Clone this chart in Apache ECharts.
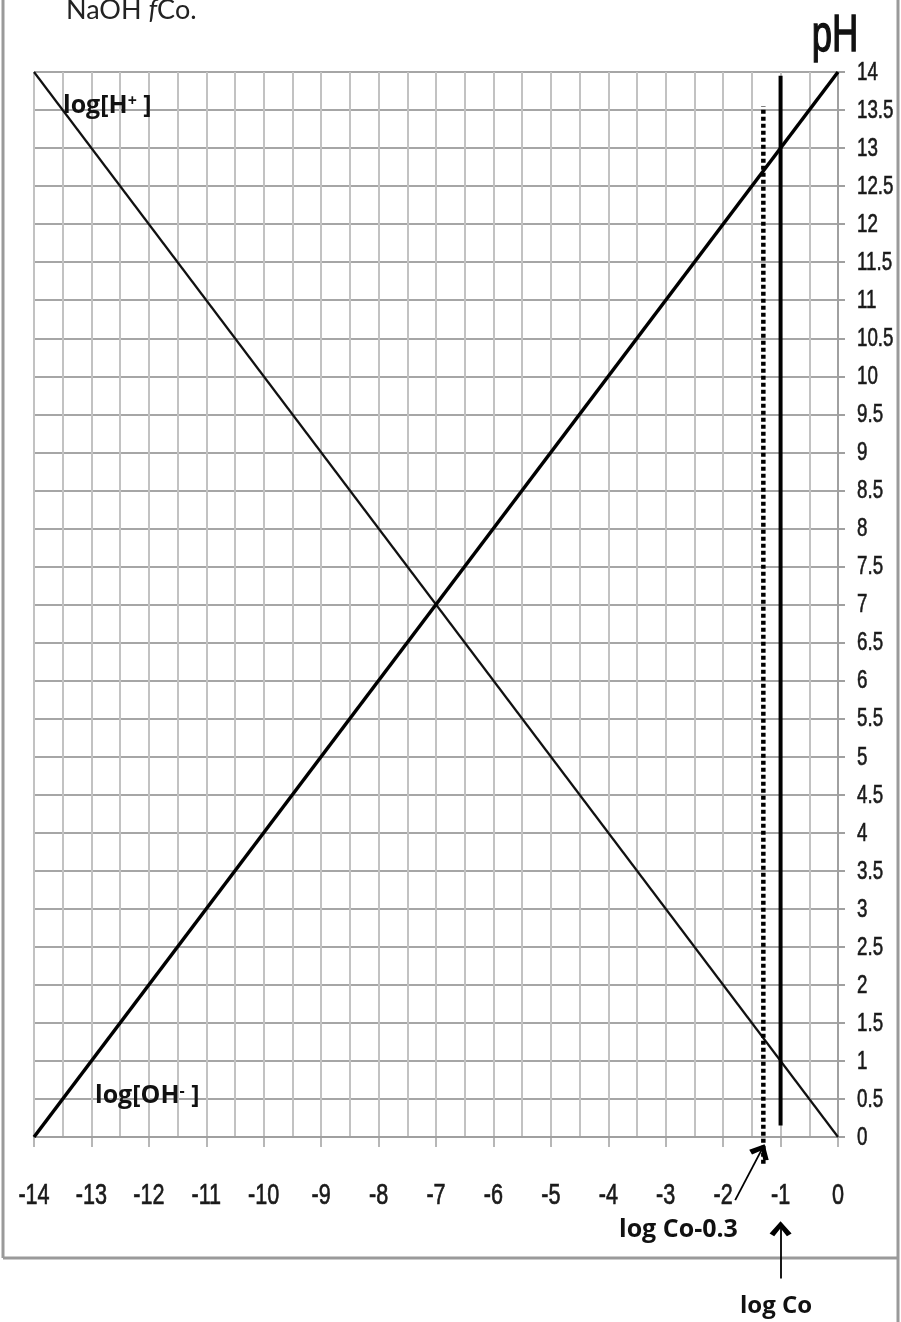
<!DOCTYPE html>
<html>
<head>
<meta charset="utf-8">
<style>
  html, body { margin: 0; padding: 0; background: #fff; }
  #main { width: 901px; height: 1322px; }
</style>
<script src="https://cdn.jsdelivr.net/npm/echarts@6/dist/echarts.min.js"></script>
</head>
<body>
<div id="main"></div>
<script>
// axis ranges and tick labels
var xRange = [-14, 0];
var yRange = [0, 14];
var xTickLabels = [-14, -13, -12, -11, -10, -9, -8, -7, -6, -5, -4, -3, -2, -1, 0];
var yTickLabels = [0, 0.5, 1, 1.5, 2, 2.5, 3, 3.5, 4, 4.5, 5, 5.5, 6, 6.5, 7,
    7.5, 8, 8.5, 9, 9.5, 10, 10.5, 11, 11.5, 12, 12.5, 13, 13.5, 14];

// log[H+] and log[OH-] lines (x = log C, y = pH)
var hPlusX = [-14, 0];
var hPlusY = [14, 0];
var ohX = [-14, 0];
var ohY = [0, 14];

// vertical markers
var logCo = -1;
var logCoY = [0.15, 13.95];
var logCoMinus = -1.3;
var logCoMinusY = [-0.35, 13.55];

// annotation arrows [from, to]
var arrowCoMinus = [[-1.79, -0.83], [-1.31, -0.14]];
var arrowCo = [[-1, -1.86], [-1, -1.16]];

var tickFont = "'Liberation Sans', Arial, sans-serif";
var labelFont = "'Open Sans', sans-serif";
var chevron = 'path://M10,-7 L10.01,-7 L10,-6.99 Z M10,0 L20,12 L15.8,14.8 L10,7 L4.2,14.8 L0,12 Z';

function pairs(xs, ys) {
    var out = [];
    for (var i = 0; i < xs.length; i++) out.push([xs[i], ys[i]]);
    return out;
}

var myChart = echarts.init(document.getElementById('main'));
var option = {
    animation: false,
    backgroundColor: '#fff',
    grid: { left: 34, right: 63, top: 72, bottom: 185 },
    xAxis: {
        type: 'value',
        min: xRange[0],
        max: xRange[1],
        interval: 1,
        axisLine: { show: true, lineStyle: { color: '#a0a0a0', width: 2 } },
        axisTick: { show: true, length: 10, lineStyle: { color: '#a0a0a0', width: 1.5 } },
        axisLabel: { show: false },
        splitLine: { show: true, lineStyle: { color: '#c2c2c2', width: 2 } },
        minorTick: { show: false, splitNumber: 2 },
        minorSplitLine: { show: true, lineStyle: { color: '#c2c2c2', width: 2 } }
    },
    yAxis: {
        type: 'value',
        position: 'right',
        min: yRange[0],
        max: yRange[1],
        interval: 0.5,
        axisLine: { show: true, lineStyle: { color: '#a0a0a0', width: 2 } },
        axisTick: { show: true, length: 7, lineStyle: { color: '#a0a0a0', width: 2 } },
        axisLabel: { show: false },
        splitLine: { show: true, lineStyle: { color: '#a6a6a6', width: 2 } }
    },
    series: [
        {
            name: 'log[H+]',
            type: 'line',
            data: pairs(hPlusX, hPlusY),
            symbol: 'none',
            clip: false,
            lineStyle: { color: '#111', width: 2.2 }
        },
        {
            name: 'log[OH-]',
            type: 'line',
            data: pairs(ohX, ohY),
            symbol: 'none',
            clip: false,
            lineStyle: { color: '#000', width: 3.5 }
        },
        {
            name: 'log Co',
            type: 'line',
            data: pairs([logCo, logCo], logCoY),
            symbol: 'none',
            clip: false,
            lineStyle: { color: '#000', width: 4 }
        },
        {
            name: 'log Co-0.3',
            type: 'line',
            data: pairs([logCoMinus, logCoMinus], logCoMinusY),
            symbol: 'none',
            clip: false,
            lineStyle: { color: '#000', width: 4.5, type: [4, 3] }
        },
        {
            name: 'arrows',
            type: 'lines',
            coordinateSystem: 'cartesian2d',
            clip: false,
            symbol: ['none', chevron],
            symbolSize: 22,
            lineStyle: { color: '#000', width: 1.8, opacity: 1, curveness: 0 },
            itemStyle: { color: '#000' },
            data: [
                { coords: arrowCoMinus },
                { coords: arrowCo }
            ]
        }
    ]
};
myChart.setOption(option);

// frame, titles and labels
var graphics = [
    { type: 'line', shape: { x1: 3, y1: 0, x2: 3, y2: 1258 }, style: { stroke: '#9a9a9a', lineWidth: 3 } },
    { type: 'line', shape: { x1: 3, y1: 1258, x2: 899, y2: 1258 }, style: { stroke: '#9a9a9a', lineWidth: 3 } },
    { type: 'line', shape: { x1: 898, y1: 0, x2: 898, y2: 1322 }, style: { stroke: '#9a9a9a', lineWidth: 3 } },
    {
        type: 'text', x: 66, y: 10,
        style: {
            text: '{n|NaOH }{i|f}{n|Co.}', verticalAlign: 'middle',
            rich: {
                n: { fontSize: 27, fontFamily: 'Lato, sans-serif', fill: '#222' },
                i: { fontSize: 27, fontFamily: 'Lato, sans-serif', fontStyle: 'italic', fill: '#222' }
            }
        }
    },
    {
        type: 'text', x: 835, y: 37, scaleX: 0.7,
        style: { text: 'pH', align: 'center', verticalAlign: 'middle', fontSize: 52, fontFamily: tickFont, fill: '#111', stroke: '#111', lineWidth: 1.4 }
    },
    {
        type: 'text', x: 63, y: 106,
        style: {
            text: '{a|log[H}{s|+}{a| ]}', verticalAlign: 'middle',
            rich: {
                a: { fontSize: 25, fontWeight: 'bold', fontFamily: labelFont, fill: '#111' },
                s: { fontSize: 16, fontWeight: 'bold', fontFamily: labelFont, fill: '#111', verticalAlign: 'top' }
            }
        }
    },
    {
        type: 'text', x: 95, y: 1096,
        style: {
            text: '{a|log[OH}{s|-}{a| ]}', verticalAlign: 'middle',
            rich: {
                a: { fontSize: 25, fontWeight: 'bold', fontFamily: labelFont, fill: '#111' },
                s: { fontSize: 16, fontWeight: 'bold', fontFamily: labelFont, fill: '#111', verticalAlign: 'top' }
            }
        }
    },
    {
        type: 'text', x: 619, y: 1230,
        style: { text: 'log Co-0.3', verticalAlign: 'middle', fontSize: 25, fontWeight: 'bold', fontFamily: labelFont, fill: '#111' }
    },
    {
        type: 'text', x: 740, y: 1306,
        style: { text: 'log Co', verticalAlign: 'middle', fontSize: 24, fontWeight: 'bold', fontFamily: labelFont, fill: '#111' }
    }
];

// tick labels placed through the chart's own scales (narrowed like the original)
xTickLabels.forEach(function (v) {
    var p = myChart.convertToPixel({ gridIndex: 0 }, [v, yRange[0]]);
    graphics.push({
        type: 'text', x: p[0], y: p[1] + 59, scaleX: 0.72,
        style: { text: String(v), align: 'center', verticalAlign: 'middle', fontSize: 30, fontFamily: tickFont, fill: '#1a1a1a', stroke: '#1a1a1a', lineWidth: 0.7 }
    });
});
yTickLabels.forEach(function (v) {
    var p = myChart.convertToPixel({ gridIndex: 0 }, [xRange[1], v]);
    graphics.push({
        type: 'text', x: p[0] + 19, y: p[1] + 1, scaleX: 0.75,
        style: { text: String(v), align: 'left', verticalAlign: 'middle', fontSize: 25, fontFamily: tickFont, fill: '#1a1a1a', stroke: '#1a1a1a', lineWidth: 0.6 }
    });
});

myChart.setOption({ graphic: graphics });
</script>
</body>
</html>
